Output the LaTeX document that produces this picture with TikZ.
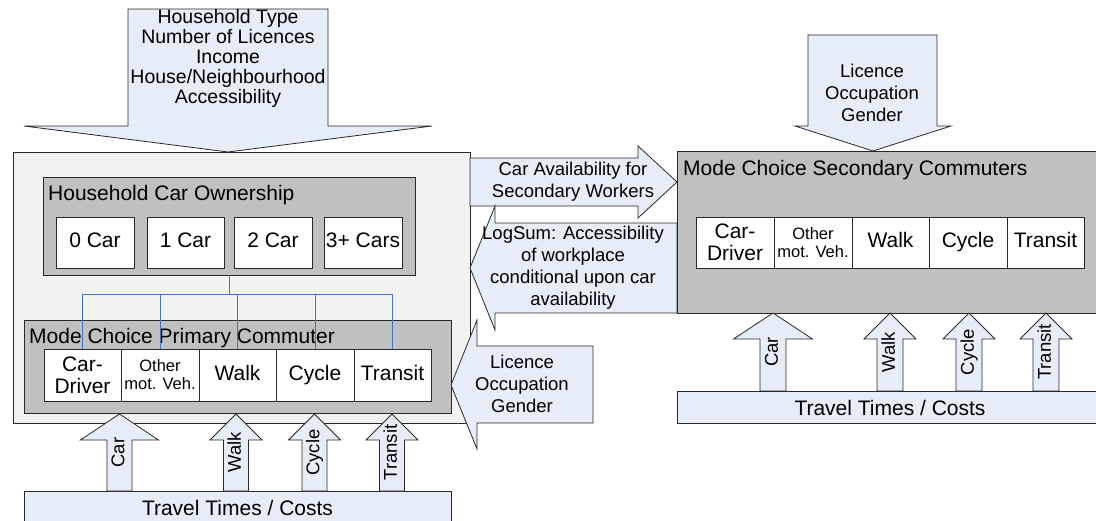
\documentclass[tikz,border=0pt]{standalone}
\usepackage{fontspec}
\setmainfont{Liberation Sans}
\definecolor{arrowblue}{RGB}{230,236,248}
\definecolor{boxgrey}{RGB}{192,192,192}
\definecolor{outergrey}{RGB}{242,242,242}
\definecolor{linkblue}{RGB}{68,114,196}
\definecolor{edgecol}{RGB}{40,40,40}
\newcommand\cellfont{\fontsize{21}{22}\selectfont}
\newcommand\smallcellfont{\fontsize{16.5}{18}\selectfont}
\newcommand\arrfont{\fontsize{18.5}{22}\selectfont}
\newcommand\arrfontB{\fontsize{19.5}{20}\selectfont}
\newcommand\myUpArr[7]{%
  \draw[blockarrow] ({#2-#3},#6) -- ({#2-#3},{#5+26}) -- ({#2-#4},{#5+26}) -- (#2,#5)
    -- ({#2+#4},{#5+26}) -- ({#2+#3},{#5+26}) -- ({#2+#3},#6) -- cycle;
  \node[rlabel] (#1) at (#2,{(#5+#6)/2}) {#7};}
\begin{document}
\begin{tikzpicture}[x=1pt,y=-1pt,
  bordr/.style={draw=edgecol, line width=0.8pt},
  blockarrow/.style={bordr, fill=arrowblue, line join=miter},
  panel/.style={bordr, inner sep=0pt, outer sep=0pt},
  cellbox/.style={bordr, fill=white, inner sep=0pt, outer sep=0pt, align=center, font=\cellfont},
  oneline/.style={text height=15pt, text depth=4.5pt},
  alabel/.style={inner sep=0pt, align=center, font=\arrfont},
  rlabel/.style={inner sep=0pt, rotate=90, font=\arrfont, text height=13.5pt, text depth=4pt},
  ttl/.style={inner sep=0pt, anchor=base west, font=\cellfont},
  link/.style={draw=linkblue, line width=0.8pt}]
\clip (0,0) rectangle (1096,521);

% ---------- left block ----------
\node[panel, fill=outergrey, minimum width=457pt, minimum height=271pt] (outer) at (241.5,287.5) {};

\node[panel, fill=boxgrey, minimum width=372pt, minimum height=98pt] (hco) at (229,226) {};
\node[ttl] (hcot) at (48,201) {Household Car Ownership};
\node[cellbox, oneline, minimum width=78pt, minimum height=51pt] (c0) at (95,242.5) {0 Car};
\node[cellbox, oneline, minimum width=77pt, minimum height=51pt] (c1) at (185.5,242.5) {1 Car};
\node[cellbox, oneline, minimum width=78pt, minimum height=51pt] (c2) at (273,242.5) {2 Car};
\node[cellbox, oneline, minimum width=78pt, minimum height=51pt] (c3) at (363,242.5) {3+ Cars};

\node[panel, fill=boxgrey, minimum width=427pt, minimum height=93pt] (mcp) at (237.5,366.5) {};
\node[ttl] (mcpt) at (29,344) {Mode Choice Primary Commuter};
\node[cellbox, minimum width=77pt, minimum height=52pt] (p1) at (82.5,375) {Car-\\Driver};
\node[cellbox, minimum width=78pt, minimum height=52pt, font=\smallcellfont] (p2) at (160,375) {Other\\mot. Veh.};
\node[cellbox, oneline, minimum width=77pt, minimum height=52pt] (p3) at (237.5,375) {Walk};
\node[cellbox, oneline, minimum width=78pt, minimum height=52pt] (p4) at (315,375) {Cycle};
\node[cellbox, oneline, minimum width=77pt, minimum height=52pt] (p5) at (392.5,375) {Transit};

\draw[link] (hco.south) -- (229,294) coordinate (hub);
\draw[link] (hub -| p1.north) -- (hub -| p5.north);
\foreach \i in {1,...,5} \draw[link] (hub -| p\i.north) -- (p\i.north);

% top-left input arrow
\draw[blockarrow] (128,9) -- (328,9) -- (328,126) -- (432,126) -- (228,152) -- (24,126) -- (128,126) -- cycle;
\node[alabel, font=\arrfontB] (hhattr) at (228,58) {Household Type\\Number of Licences\\Income\\House/Neighbourhood\\Accessibility};

% travel times left
\node[panel, fill=arrowblue, minimum width=427pt, minimum height=60pt, anchor=north] (tt1) at (237.5,491) {};
\node[inner sep=0pt, font=\cellfont] (tt1l) at (237.5,508) {Travel Times / Costs};
\myUpArr{uca}{119.5}{12.5}{39}{414}{491}{Car}
\myUpArr{uwa}{236}{12.5}{26}{414}{491}{Walk}
\myUpArr{ucy}{314.5}{12.5}{26}{414}{491}{Cycle}
\myUpArr{utr}{392}{12.5}{26}{414}{491}{Transit}

% ---------- middle arrows ----------
\draw[blockarrow] (470,158) -- (638,158) -- (638,146) -- (677,182) -- (638,218) -- (638,206) -- (470,206) -- cycle;
\node[alabel] (cav) at (573,182) {Car Availability for\\Secondary Workers};
\draw[blockarrow] (677,223) -- (495,223) -- (495,206) -- (470,268) -- (495,330) -- (495,313) -- (677,313) -- cycle;
\node[alabel] (lgs) at (573,268) {LogSum: Accessibility\\of workplace\\conditional upon car\\availability};
\draw[blockarrow] (593,346) -- (477,346) -- (477,320) -- (451,385) -- (477,449) -- (477,423) -- (593,423) -- cycle;
\node[alabel] (lic1) at (522,384) {Licence\\Occupation\\Gender};

% ---------- right block ----------
\node[panel, fill=boxgrey, minimum width=423pt, minimum height=162pt] (mcs) at (888.5,232) {};
\node[ttl] (mcst) at (683,176) {Mode Choice Secondary Commuters};
\node[cellbox, minimum width=78pt, minimum height=51pt] (s1) at (735,242.5) {Car-\\Driver};
\node[cellbox, minimum width=78pt, minimum height=51pt, font=\smallcellfont] (s2) at (813,242.5) {Other\\mot. Veh.};
\node[cellbox, oneline, minimum width=77pt, minimum height=51pt] (s3) at (890.5,242.5) {Walk};
\node[cellbox, oneline, minimum width=78pt, minimum height=51pt] (s4) at (968,242.5) {Cycle};
\node[cellbox, oneline, minimum width=77pt, minimum height=51pt] (s5) at (1045.5,242.5) {Transit};

\draw[blockarrow] (808,35) -- (937,35) -- (937,126) -- (951,126) -- (873,151) -- (795,126) -- (808,126) -- cycle;
\node[alabel] (lic2) at (872,93) {Licence\\Occupation\\Gender};

\node[panel, fill=arrowblue, minimum width=423pt, minimum height=32pt] (tt2) at (888.5,407) {};
\node[inner sep=0pt, font=\cellfont] (tt2l) at (890,408) {Travel Times / Costs};
\myUpArr{rca}{773}{13}{39.5}{313}{391}{Car}
\myUpArr{rwa}{890}{13}{26}{313}{391}{Walk}
\myUpArr{rcy}{969}{13}{26}{313}{391}{Cycle}
\myUpArr{rtr}{1046}{13}{26}{313}{391}{Transit}
\end{tikzpicture}
\end{document}
